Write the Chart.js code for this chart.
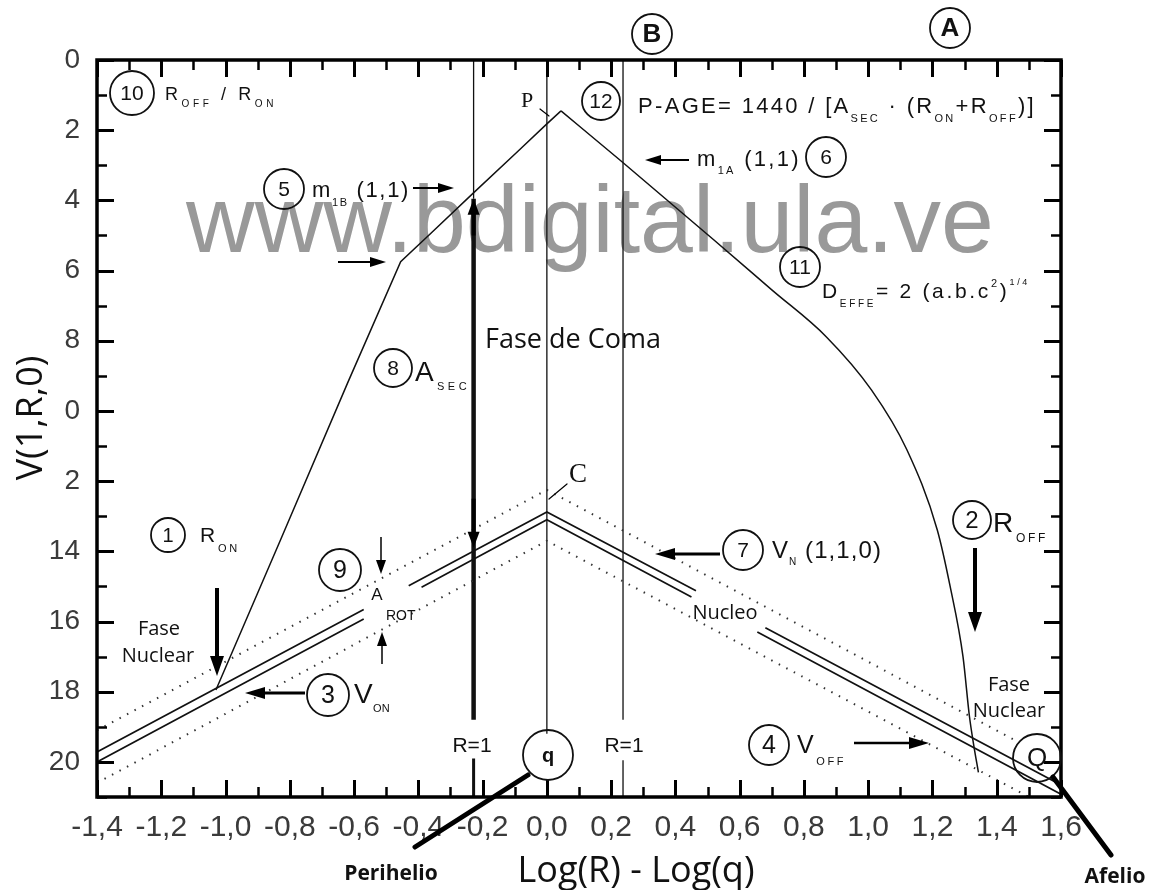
<!DOCTYPE html>
<html><head><meta charset="utf-8">
<script src="https://cdn.jsdelivr.net/npm/chart.js@4"></script>
<style>html,body{margin:0;padding:0;background:#fff;}canvas{display:block;}</style>
</head><body>
<canvas id="c" width="1151" height="890"></canvas>
<script>
// ---- tick labels ----
const xTickValues = [-1.4,-1.2,-1.0,-0.8,-0.6,-0.4,-0.2,0.0,0.2,0.4,0.6,0.8,1.0,1.2,1.4,1.6];
const xTickLabels = ['-1,4','-1,2','-1,0','-0,8','-0,6','-0,4','-0,2','0,0','0,2','0,4','0,6','0,8','1,0','1,2','1,4','1,6'];
const yTickValues = [0,2,4,6,8,10,12,14,16,18,20];
const yTickLabels = ['0','2','4','6','8','0','2','14','16','18','20'];

// ---- coma curve: rising branch (m1B) and falling branch (m1A) ----
const comaRiseX = [-1.03,-0.83,-0.62,-0.455,-0.36,-0.23,-0.09,0.0,0.044];
const comaRiseY = [17.95,13.7,9.2,5.75,4.93,3.8,2.6,1.82,1.45];
const comaFallX = [0.044,0.23,0.52,0.70,0.87,1.01,1.12,1.215,1.255,1.295,1.315,1.328,1.343];
const comaFallY = [1.45,2.87,5.13,6.55,7.89,9.4,11.1,13.39,15.0,17.0,18.7,19.5,20.3];

// ---- nucleus lines V_N (two parallel solid lines, with gaps) ----
const nucUpperX = [-1.4,-0.57,-0.5,-0.43,0.0,0.464,0.57,0.68,1.6];
const nucUpperY = [19.72,15.66,null,14.98,12.88,15.12,null,16.18,20.66];
const nucLowerX = [-1.4,-0.57,-0.48,-0.39,0.0,0.45,0.55,0.655,1.6];
const nucLowerY = [20.0,15.93,null,15.02,13.1,15.3,null,16.3,20.92];

// ---- dotted envelopes ----
const dotUpperX = [-1.4,0.0,1.45];
const dotUpperY = [19.1,12.25,19.35];
const dotLowerX = [-1.4,0.0,1.5];
const dotLowerY = [20.6,13.7,21.0];

// ---- vertical reference lines ----
const leftR1X = -0.228;
const leftR1ThinY = [0,3.95];
const leftR1ThickY = [3.95,18.8];
const leftR1BottomY = [19.9,21];
const qLineX = 0.0;
const qLineY = [0,19.2,null,20.5,21];
const rightR1X = 0.237;
const rightR1Y = [0,18.8,null,19.95,21];

const pts = (xs, ys) => ys.map((y,i)=>({x: Array.isArray(xs)?xs[i]:xs, y}));

const SANS = '"Liberation Sans", Arial, sans-serif';
const OPEN = '"Open Sans", "Noto Sans", sans-serif';
const SERIF = '"Liberation Serif", "DejaVu Serif", serif';

function rich(ctx, x, y, parts, family, targetW, color){
  ctx.save();
  ctx.fillStyle = color || '#111';
  ctx.textAlign='left'; ctx.textBaseline='alphabetic';
  let w=0, n=0;
  parts.forEach(p=>{ctx.font=p[1]+'px '+family; ctx.letterSpacing='0px'; w+=ctx.measureText(p[0]).width; n+=p[0].length;});
  let ls = 0;
  if (targetW && n>1) ls = Math.max(-1,(targetW - w)/n);
  let cx = x;
  parts.forEach(p=>{
    ctx.font=p[1]+'px '+family;
    ctx.letterSpacing = ls+'px';
    ctx.fillText(p[0], cx, y+(p[2]||0));
    cx += ctx.measureText(p[0]).width;
  });
  ctx.restore();
}
function circ(ctx,x,y,r,label,size,bold){
  ctx.save(); ctx.strokeStyle='#111'; ctx.lineWidth=1.8;
  ctx.beginPath(); ctx.arc(x,y,r,0,Math.PI*2); ctx.stroke();
  if(label){ ctx.fillStyle='#111'; ctx.font=(bold?'bold ':'')+size+'px '+SANS; ctx.textAlign='center'; ctx.textBaseline='middle'; ctx.fillText(label,x,y+1); }
  ctx.restore();
}
function arrow(ctx,x1,y1,x2,y2,lw,hl,hw){
  const a=Math.atan2(y2-y1,x2-x1), c=Math.cos(a), s=Math.sin(a);
  ctx.save(); ctx.strokeStyle='#000'; ctx.fillStyle='#000'; ctx.lineWidth=lw;
  ctx.beginPath(); ctx.moveTo(x1,y1); ctx.lineTo(x2-c*hl*0.7,y2-s*hl*0.7); ctx.stroke();
  ctx.beginPath(); ctx.moveTo(x2,y2);
  ctx.lineTo(x2-hl*c+hw*s, y2-hl*s-hw*c);
  ctx.lineTo(x2-hl*c-hw*s, y2-hl*s+hw*c);
  ctx.closePath(); ctx.fill(); ctx.restore();
}
function seg(ctx,x1,y1,x2,y2,lw){ctx.save();ctx.strokeStyle='#000';ctx.lineWidth=lw;ctx.lineCap='round';ctx.beginPath();ctx.moveTo(x1,y1);ctx.lineTo(x2,y2);ctx.stroke();ctx.restore();}
function txt(ctx,s,x,y,font,align,color){ctx.save();ctx.font=font;ctx.fillStyle=color||'#111';ctx.textAlign=align||'left';ctx.textBaseline='alphabetic';ctx.fillText(s,x,y);ctx.restore();}

const decor = {
  id:'decor',
  beforeDatasetsDraw(chart){
    const ctx=chart.ctx;
    ctx.save();
    ctx.font='95px '+SANS; ctx.fillStyle='#999999'; ctx.textAlign='center'; ctx.textBaseline='alphabetic';
    ctx.fillText('www.bdigital.ula.ve', 590, 252);
    ctx.restore();
  },
  afterDatasetsDraw(chart){
    const ctx=chart.ctx, xs=chart.scales.x, ys=chart.scales.y, ca=chart.chartArea;
    // frame
    ctx.save(); ctx.strokeStyle='#000'; ctx.lineWidth=3.5;
    ctx.strokeRect(ca.left, ca.top, ca.right-ca.left, ca.bottom-ca.top);
    // inward ticks
    for(let i=0;i<=30;i++){
      const v=xs.min+i*0.1, px=Math.round(xs.getPixelForValue(v))+0.5, major=i%2===0, L=major?17:10;
      ctx.lineWidth=major?3:2.5;
      ctx.beginPath(); ctx.moveTo(px,ca.bottom); ctx.lineTo(px,ca.bottom-L); ctx.moveTo(px,ca.top); ctx.lineTo(px,ca.top+L); ctx.stroke();
    }
    for(let v=0;v<=21;v++){
      const py=Math.round(ys.getPixelForValue(v))+0.5, major=v%2===0, L=major?17:10;
      ctx.lineWidth=major?3:2.5;
      ctx.beginPath(); ctx.moveTo(ca.left,py); ctx.lineTo(ca.left+L,py); ctx.moveTo(ca.right,py); ctx.lineTo(ca.right-L,py); ctx.stroke();
    }
    ctx.restore();

    // arrowheads on the A_SEC (Fase de Coma) line
    const ax = xs.getPixelForValue(leftR1X);
    arrow(ctx, ax, ys.getPixelForValue(5), ax, ys.getPixelForValue(leftR1ThickY[0]), 4, 16, 6);
    arrow(ctx, ax, ys.getPixelForValue(12.5), ax, ys.getPixelForValue(13.9), 4, 16, 6);

    // top circles
    circ(ctx,652,34,20,'B',26,true);
    circ(ctx,950,28,20,'A',26,true);

    // (10) R_OFF / R_ON
    circ(ctx,132,93,22,'10',21);
    rich(ctx,165,100,[['R',18],['OFF',10,7],[' / R',18],['ON',10,7]],SANS,112);

    // P and leader
    txt(ctx,'P',527,107,'22px '+SERIF,'center');
    seg(ctx,540,109,549,116,1.2);

    // (12) P-AGE
    circ(ctx,601,101,19,'12',21);
    rich(ctx,638,113,[['P-AGE= 1440 / [A',22],['SEC',11,9],[' · (R',22],['ON',11,9],['+R',22],['OFF',11,9],[')]',22]],SANS,398);

    // (5) m1B
    circ(ctx,284,189,20,'5',21);
    rich(ctx,312,197,[['m',22],['1B',11,9],[' (1,1)',22]],SANS,98);
    arrow(ctx,413,188,454,188,2,16,5);
    arrow(ctx,338,262,386,262,2,16,5);

    // (6) m1A
    rich(ctx,697,166,[['m',22],['1A',11,8],[' (1,1)',22]],SANS,104);
    arrow(ctx,689,160,645,160,2,16,5);
    circ(ctx,826,157,20,'6',21);

    // (11) D_EFFE
    circ(ctx,800,267,20,'11',21);
    rich(ctx,822,298,[['D',21],['EFFE',10,9],['= 2 (a.b.c',21],['2',11,-11],[')',21],['1/4',9,-13]],SANS,208);

    // Fase de Coma
    txt(ctx,'Fase de Coma',573,348,'27px '+OPEN,'center');

    // (8) A_SEC
    circ(ctx,393,368,19,'8',21);
    rich(ctx,415,381,[['A',28],['SEC',11,9]],SANS,55);

    // C and leader
    txt(ctx,'C',578,482,'27px '+SERIF,'center');
    seg(ctx,549,499,567,484,1.2);

    // (1) R_ON
    circ(ctx,168,535,17,'1',20);
    rich(ctx,200,542,[['R',21],['ON',11,10]],SANS,40);
    arrow(ctx,217,588,217,676,4,20,7);

    // (2) R_OFF
    circ(ctx,972,520,19,'2',24);
    rich(ctx,993,532,[['R',28],['OFF',12,10]],SANS,55);
    arrow(ctx,975,548,975,632,4,20,7);

    // (7) V_N
    circ(ctx,743,550,20,'7',21);
    rich(ctx,772,558,[['V',24],['N',10,7],[' (1,1,0)',24]],SANS,110);
    arrow(ctx,720,554,655,554,3,20,6);

    // (9) A_ROT
    circ(ctx,340,570,21,'9',25);
    arrow(ctx,381,537,381,574,1.5,14,5);
    txt(ctx,'A',377,600,'17px '+SANS,'center');
    txt(ctx,'ROT',386,620,'14px '+SANS,'left');
    arrow(ctx,382,664,382,632,1.5,14,5);

    // Fase Nuclear (left / right)
    txt(ctx,'Fase',159,635,'20px '+OPEN,'center');
    txt(ctx,'Nuclear',158,662,'20px '+OPEN,'center');
    txt(ctx,'Fase',1009,691,'20px '+OPEN,'center');
    txt(ctx,'Nuclear',1009,717,'20px '+OPEN,'center');
    txt(ctx,'Nucleo',725,619,'20px '+OPEN,'center');

    // (3) V_ON
    circ(ctx,328,695,21,'3',25);
    rich(ctx,354,703,[['V',28],['ON',11,9]],SANS,36);
    arrow(ctx,305,693,245,693,3,20,6);

    // (4) V_OFF
    circ(ctx,769,745,20,'4',25);
    rich(ctx,797,753,[['V',25],['OFF',11,12]],SANS,49);
    arrow(ctx,854,743,929,743,2.5,20,6);

    // R=1 labels
    txt(ctx,'R=1',472,752,'21px '+SANS,'center');
    txt(ctx,'R=1',624,752,'21px '+SANS,'center');

    // q circle + Perihelio
    circ(ctx,548,755,25,'q',20,true);
    seg(ctx,528,775,415,847,5);
    txt(ctx,'Perihelio',391,880,'bold 21px '+OPEN,'center');

    // Q circle + Afelio
    circ(ctx,1037,758,24,'Q',26);
    seg(ctx,1053,777,1111,855,5);
    txt(ctx,'Afelio',1115,883,'bold 21px '+OPEN,'center');

    // axis titles
    txt(ctx,'Log(R) - Log(q)',636,882,'36px '+OPEN,'center');
    ctx.save(); ctx.translate(42,418); ctx.rotate(-Math.PI/2);
    ctx.font='36px '+OPEN; ctx.fillStyle='#111'; ctx.textAlign='center'; ctx.textBaseline='alphabetic';
    ctx.fillText('V(1,R,0)',0,0); ctx.restore();
  }
};

const lineDs = (data, w, extra) => Object.assign({data, borderColor:'#111', backgroundColor:'#111', borderWidth:w, pointRadius:0, showLine:true, tension:0, spanGaps:false, fill:false}, extra||{});

new Chart(document.getElementById('c'), {
  type:'scatter',
  data:{ datasets:[
    lineDs(pts(comaRiseX,comaRiseY),1.5),
    lineDs(pts(comaFallX,comaFallY),1.5,{cubicInterpolationMode:'monotone'}),
    lineDs(pts(nucUpperX,nucUpperY),1.7),
    lineDs(pts(nucLowerX,nucLowerY),1.7),
    lineDs(pts(dotUpperX,dotUpperY),2,{borderDash:[1.5,7],borderColor:'#333'}),
    lineDs(pts(dotLowerX,dotLowerY),2,{borderDash:[1.5,7],borderColor:'#333'}),
    lineDs(pts(leftR1X,leftR1ThinY),1.3),
    lineDs(pts(leftR1X,leftR1ThickY),4.5),
    lineDs(pts(leftR1X,leftR1BottomY),3),
    lineDs(pts(qLineX,qLineY),1.3),
    lineDs(pts(rightR1X,rightR1Y),1.3)
  ]},
  options:{
    responsive:false, animation:false, devicePixelRatio:1,
    layout:{padding:{left:0,top:60,right:90,bottom:0}},
    plugins:{legend:{display:false}, tooltip:{enabled:false}},
    scales:{
      x:{type:'linear', min:-1.4, max:1.6,
        afterBuildTicks(s){ s.ticks = xTickValues.map(v=>({value:v})); },
        afterFit(s){ s.height = 93; },
        grid:{display:false, drawTicks:false, tickLength:0}, border:{display:false},
        ticks:{autoSkip:false, maxRotation:0, minRotation:0, padding:13, color:'#3a3a3a', font:{family:'Liberation Sans', size:30},
          callback:(v,i)=>xTickLabels[i]}},
      y:{type:'linear', min:0, max:21, reverse:true,
        afterBuildTicks(s){ s.ticks = yTickValues.map(v=>({value:v})); },
        afterFit(s){ s.width = 97; },
        grid:{display:false, drawTicks:false, tickLength:0}, border:{display:false},
        ticks:{autoSkip:false, padding:17, color:'#3a3a3a', font:{family:'Liberation Sans', size:28},
          callback:(v,i)=>yTickLabels[i]}}
    }
  },
  plugins:[decor]
});
</script></body></html>
